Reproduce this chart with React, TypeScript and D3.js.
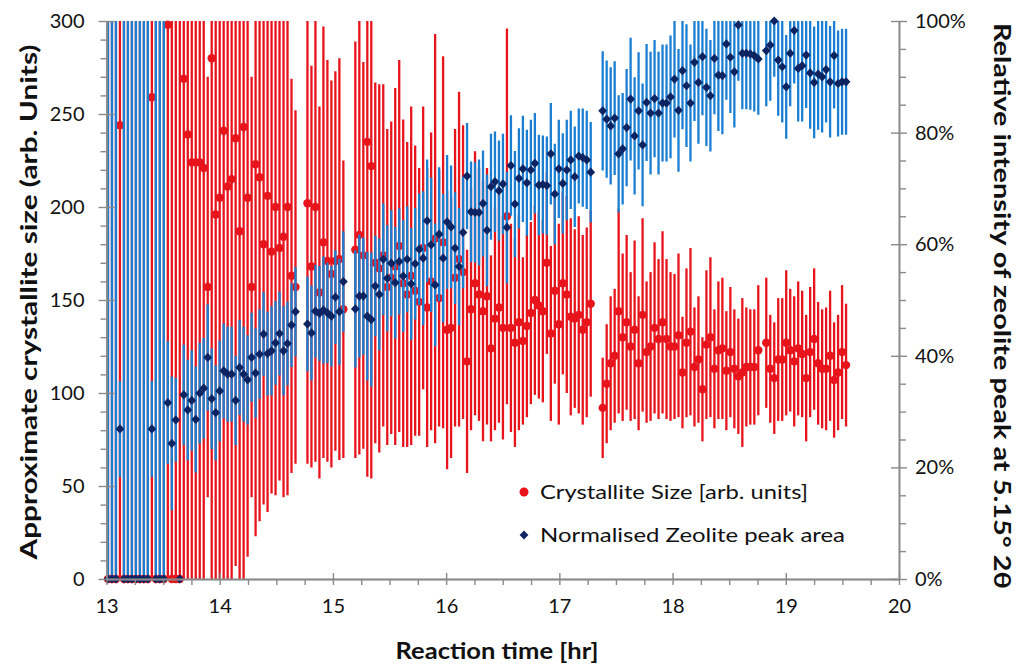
import React, { useRef, useEffect } from "react";
import * as d3 from "d3";

// scans are evenly spaced in time, gaps are null
const TIME_START = 13.013;
const TIME_STEP = 0.03524;

// crystallite size [arb. units], left axis
const crystalliteSize: (number | null)[] = [
  0, 0, 0, 244, 0, 0, 0, 0, 0, 0,
  0, 259, 0, 0, 0, 298, 0, 0, 0, 269,
  239, 224, 224, 224, 221, 157, 280, 196, 205, 241,
  211, 215, 237, 187, 243, 205, 157, 223, 216, 180,
  206, 176, 200, 178, 184, 200, 163, 157, null, null,
  202, 168, 200, 154, 181, 171, 164, 171, 172, 145,
  null, null, 177, 185, 174, 235, 222, 170, 167, 174,
  157, 162, 168, 179, 159, 153, 163, 155, 149, 178,
  146, 160, 183, 151, 181, 134, 135, 162, 172, 165,
  117, 145, 159, 153, 144, 152, 124, 140, 146, 135,
  195, 135, 127, 138, 128, 136, 143, 150, 147, 144,
  170, 132, 155, 137, 159, 153, 141, 140, 142, 134,
  138, 148, null, null, 92, 105, 116, 120, 144, 130,
  138, 125, 134, 116, 142, 122, 125, 135, 129, 138,
  129, 125, 125, 131, 111, 127, 133, 114, 118, 102,
  126, 130, 113, 123, 124, 112, 122, 113, 109, 111,
  114, 114, 114, 123, null, 127, 113, 108, 118, 118,
  127, 123, 117, 124, 121, 108, 122, 129, 116, 113,
  113, 120, 107, 111, 122, 115,
];

const crystalliteErr: number[] = [
  400, 400, 400, 300, 400, 400, 400, 400, 400, 400,
  400, 300, 400, 400, 400, 300, 400, 400, 400, 280,
  250, 240, 240, 235, 230, 113, 290, 220, 215, 250,
  220, 215, 230, 190, 243, 193, 113, 200, 185, 140,
  170, 130, 155, 125, 140, 155, 106, 95, 0, 0,
  140, 108, 137, 100, 116, 108, 104, 102, 108, 80,
  0, 0, 112, 118, 104, 180, 168, 97, 99, 92,
  85, 84, 96, 100, 88, 82, 91, 78, 72, 76,
  75, 80, 110, 69, 100, 75, 70, 80, 90, 79,
  60, 65, 71, 68, 70, 69, 50, 60, 62, 60,
  101, 56, 56, 58, 45, 49, 49, 51, 50, 49,
  49, 47, 50, 54, 49, 53, 53, 48, 53, 51,
  51, 50, 0, 0, 27, 32, 36, 36, 55, 45,
  47, 40, 48, 36, 52, 38, 40, 46, 43, 49,
  43, 40, 39, 44, 30, 40, 45, 32, 34, 28,
  40, 43, 32, 37, 38, 32, 35, 32, 31, 40,
  32, 31, 31, 35, 0, 35, 29, 30, 33, 33,
  39, 33, 35, 36, 34, 34, 35, 38, 33, 32,
  33, 35, 31, 31, 36, 33,
];

// normalised zeolite peak area [%], right axis
const zeolitePeak: (number | null)[] = [
  0, 0, 0, 26.9, 0, 0, 0, 0, 0, 0,
  0, 26.9, 0, 0, 0, 31.6, 24.3, 28.5, 0, 33,
  30.3, 32, 28.6, 33.3, 34.2, 39.7, 32.3, 29.8, 33.7, 37.3,
  36.7, 36.7, 32, 37.9, 36.7, 35.7, 39.7, 36.9, 40.3, 43.9,
  40.4, 40.9, 42.3, 44, 40.9, 42.2, 45.5, 47.9, null, null,
  45.7, 44.1, 48, 47.6, 48.2, 47.7, 47.1, 50.5, 47.9, 53.3,
  null, null, 48.4, 50.7, 50.7, 47.1, 46.5, 52.5, 51, 57.3,
  53.9, 56.6, 53.1, 56.9, 54.3, 57.3, 52.9, 56.5, 59.1, 57.5,
  64.2, 59.9, 52.7, 61.8, 57.5, 64, 63.1, 59.3, 56, 62.1,
  72.2, 65.8, 65.7, 65.7, 67.3, 62.5, 70.3, 71.2, 69.6, 70.8,
  63, 74.1, 67.2, 71.8, 73.5, 71, 73.3, 74.5, 70.6, 70.7,
  70.5, 76.2, 69, 73.5, 70.9, 73.3, 75.1, 72.1, 75.8, 75.5,
  75.1, 72.9, null, null, 83.9, 82.4, 81.2, 82.6, 76.2, 77.1,
  80.9, 86, 79.4, 83.9, 77.8, 85.4, 83.5, 86.1, 83.5, 85.3,
  85.3, 86.4, 89.6, 84, 91.1, 88.4, 85.3, 92.6, 89, 93.6,
  88.1, 86.6, 93.3, 90.3, 90.2, 95.9, 93.5, 90.9, 99.3, 94.2,
  94.2, 94.1, 93.8, 93.2, null, 94.7, 95.7, 100, 93, 91.8,
  88.2, 94.2, 98.3, 91.5, 92, 93.9, 90.7, 89, 90.5, 90,
  91.3, 89.1, 93.8, 88.8, 89.1, 89.1,
];

const zeoliteErr: number[] = [
  200, 200, 200, 8.6, 200, 200, 200, 200, 200, 200,
  200, 8.6, 200, 200, 200, 11, 12, 7.5, 0, 9,
  9, 9, 9.5, 9, 9, 9.5, 9, 8.5, 9, 8.5,
  8.5, 8.5, 8, 8.5, 8.5, 8, 8, 8, 8, 7.5,
  7.5, 8, 7.5, 7.5, 8, 7.5, 7.5, 8, 0, 0,
  8.5, 8.5, 8.3, 8.5, 9.6, 9, 9, 8.4, 9.5, 9,
  0, 0, 10.5, 11, 10.5, 11.5, 12, 9, 10, 10,
  9.5, 9.5, 10, 9.5, 10, 9.5, 10, 10, 10, 12,
  11, 12, 11, 12, 11.5, 12, 11, 10, 10.5, 10,
  9.5, 9, 9, 9.5, 9.5, 10, 9.5, 9, 9, 9,
  10, 9, 9.5, 9, 9.5, 9.5, 9, 9, 9, 8.8,
  8.8, 9.1, 9, 8.8, 9, 9, 8.8, 9, 8.5, 8.8,
  8.8, 9, 0, 0, 10.7, 10.5, 10.5, 10.2, 10.5, 10,
  10.5, 11, 10.5, 10.5, 11, 10.5, 11, 10.5, 11, 10.5,
  10.5, 11, 10.5, 11, 10.5, 11, 10.5, 10.5, 11, 10.5,
  10.5, 10, 10, 10, 10.5, 10, 10, 10, 10, 10,
  10, 10, 10, 10, 0, 10, 10, 10, 10, 10,
  9.3, 9.5, 9.5, 9.5, 10, 9.5, 10, 10, 10, 10,
  9.5, 10, 9.5, 9.5, 9.5, 9.5,
];

const xTicks = [13, 14, 15, 16, 17, 18, 19, 20];
const leftTicks = [0, 50, 100, 150, 200, 250, 300];
const rightTicks = [0, 20, 40, 60, 80, 100];

const RED = "#e8141c";
const BLUE_BAR = "#1a7fd2";
const NAVY = "#0d2463";
const AXIS = "#8a8a8a";
const FONT = "Lato, 'Open Sans', 'DejaVu Sans', sans-serif";

const App: React.FC = () => {
  const svgRef = useRef<SVGSVGElement>(null);

  useEffect(() => {
    const width = 1024;
    const height = 670;
    const plot = { left: 106.5, right: 899, top: 21, bottom: 579 };

    const svg = d3.select(svgRef.current);
    svg.selectAll("*").remove();
    svg.attr("width", width).attr("height", height);

    const x = d3.scaleLinear().domain([13, 20]).range([plot.left, plot.right]);
    const yL = d3.scaleLinear().domain([0, 300]).range([plot.bottom, plot.top]);
    const yR = d3.scaleLinear().domain([0, 100]).range([plot.bottom, plot.top]);

    const red = crystalliteSize
      .map((v, i) => ({ t: TIME_START + i * TIME_STEP, v, e: crystalliteErr[i] }))
      .filter(d => d.v !== null) as { t: number; v: number; e: number }[];
    const blue = zeolitePeak
      .map((v, i) => ({ t: TIME_START + i * TIME_STEP, v, e: zeoliteErr[i] }))
      .filter(d => d.v !== null) as { t: number; v: number; e: number }[];

    svg.append("defs")
      .append("clipPath")
      .attr("id", "plot-clip")
      .append("rect")
      .attr("x", plot.left)
      .attr("y", plot.top)
      .attr("width", plot.right - plot.left)
      .attr("height", plot.bottom - plot.top);

    // error bars + markers: red series first, blue on top
    const bars = svg.append("g").attr("clip-path", "url(#plot-clip)");
    bars.selectAll(".red-bar")
      .data(red.filter(d => d.e > 0))
      .enter()
      .append("line")
      .attr("x1", d => x(d.t))
      .attr("x2", d => x(d.t))
      .attr("y1", d => yL(d.v - d.e))
      .attr("y2", d => yL(d.v + d.e))
      .attr("stroke", RED)
      .attr("stroke-width", 2.3);

    svg.append("g")
      .selectAll("circle")
      .data(red)
      .enter()
      .append("circle")
      .attr("cx", d => x(d.t))
      .attr("cy", d => yL(d.v))
      .attr("r", 4.2)
      .attr("fill", RED);

    const bars2 = svg.append("g").attr("clip-path", "url(#plot-clip)");
    bars2.selectAll(".blue-bar")
      .data(blue.filter(d => d.e > 0))
      .enter()
      .append("line")
      .attr("x1", d => x(d.t))
      .attr("x2", d => x(d.t))
      .attr("y1", d => yR(d.v - d.e))
      .attr("y2", d => yR(d.v + d.e))
      .attr("stroke", BLUE_BAR)
      .attr("stroke-width", 2.3);

    const diamond = "M0,-4.6L4.4,0L0,4.6L-4.4,0Z";
    svg.append("g")
      .selectAll("path")
      .data(blue)
      .enter()
      .append("path")
      .attr("d", diamond)
      .attr("transform", d => `translate(${x(d.t)},${yR(d.v)})`)
      .attr("fill", NAVY);

    // axes
    const styleAxis = (g: d3.Selection<SVGGElement, unknown, null, undefined>) => {
      g.selectAll("path").attr("stroke", AXIS).attr("stroke-width", 1.4);
      g.selectAll("line").attr("stroke", AXIS).attr("stroke-width", 1.4);
      g.selectAll("text")
        .attr("font-family", FONT)
        .attr("font-size", 20)
        .attr("fill", "#111");
    };

    const leftMinor = d3.range(0, 301, 10).filter(v => v % 50 !== 0);
    const rightMinor = d3.range(0, 101, 5).filter(v => v % 20 !== 0);
    const xMinor = d3.range(13, 20.01, 0.25).filter(v => Math.abs(v - Math.round(v)) > 0.01);

    // left
    svg.append("g")
      .attr("transform", `translate(${plot.left},0)`)
      .call(d3.axisLeft(yL).tickValues(leftMinor).tickSize(6).tickSizeOuter(0).tickFormat(() => ""))
      .call(styleAxis);
    svg.append("g")
      .attr("transform", `translate(${plot.left},0)`)
      .call(d3.axisRight(yL).tickValues(leftTicks).tickSize(8).tickSizeOuter(0).tickFormat(() => ""))
      .call(styleAxis);
    svg.append("g")
      .attr("transform", `translate(${plot.left},0)`)
      .call(d3.axisLeft(yL).tickValues(leftTicks).tickSize(8).tickSizeOuter(0).tickPadding(14))
      .call(styleAxis);

    // right
    svg.append("g")
      .attr("transform", `translate(${plot.right},0)`)
      .call(d3.axisRight(yR).tickValues(rightMinor).tickSize(7).tickSizeOuter(0).tickFormat(() => ""))
      .call(styleAxis);
    svg.append("g")
      .attr("transform", `translate(${plot.right},0)`)
      .call(d3.axisLeft(yR).tickValues(rightTicks).tickSize(8).tickSizeOuter(0).tickFormat(() => ""))
      .call(styleAxis);
    svg.append("g")
      .attr("transform", `translate(${plot.right},0)`)
      .call(d3.axisRight(yR).tickValues(rightTicks).tickSize(8).tickSizeOuter(0).tickPadding(8).tickFormat(d => `${d}%`))
      .call(styleAxis);

    // bottom
    svg.append("g")
      .attr("transform", `translate(0,${plot.bottom})`)
      .call(d3.axisBottom(x).tickValues(xMinor).tickSize(6).tickSizeOuter(0).tickFormat(() => ""))
      .call(styleAxis);
    svg.append("g")
      .attr("transform", `translate(0,${plot.bottom})`)
      .call(d3.axisTop(x).tickValues(xTicks).tickSize(6).tickSizeOuter(0).tickFormat(() => ""))
      .call(styleAxis);
    svg.append("g")
      .attr("transform", `translate(0,${plot.bottom})`)
      .call(d3.axisBottom(x).tickValues(xTicks).tickSize(6).tickSizeOuter(0).tickPadding(14).tickFormat(d3.format("d")))
      .call(styleAxis);

    // titles
    svg.append("text")
      .attr("transform", "translate(37,302) rotate(-90)")
      .attr("text-anchor", "middle")
      .attr("font-family", FONT)
      .attr("font-weight", "bold")
      .attr("font-size", 22)
      .attr("textLength", 515)
      .attr("lengthAdjust", "spacingAndGlyphs")
      .attr("fill", "#111")
      .text("Approximate crystallite size (arb. Units)");

    svg.append("text")
      .attr("x", 497)
      .attr("y", 659)
      .attr("text-anchor", "middle")
      .attr("font-family", FONT)
      .attr("font-weight", "bold")
      .attr("font-size", 22)
      .attr("textLength", 203)
      .attr("lengthAdjust", "spacingAndGlyphs")
      .attr("fill", "#111")
      .text("Reaction time [hr]");

    svg.append("text")
      .attr("transform", "translate(994,306) rotate(90)")
      .attr("text-anchor", "middle")
      .attr("font-family", FONT)
      .attr("font-weight", "bold")
      .attr("font-size", 22)
      .attr("textLength", 566)
      .attr("lengthAdjust", "spacingAndGlyphs")
      .attr("fill", "#111")
      .text("Relative intensity of zeolite peak at 5.15° 2θ");

    // legend
    const legend = svg.append("g").attr("font-family", FONT).attr("font-size", 20).attr("fill", "#111");
    legend.append("circle").attr("cx", 524).attr("cy", 492).attr("r", 4.5).attr("fill", RED);
    legend.append("text").attr("x", 540).attr("y", 499).attr("textLength", 268)
      .attr("lengthAdjust", "spacingAndGlyphs").text("Crystallite Size [arb. units]");
    legend.append("path").attr("d", diamond).attr("transform", "translate(524,535)").attr("fill", NAVY);
    legend.append("text").attr("x", 540).attr("y", 542).attr("textLength", 305)
      .attr("lengthAdjust", "spacingAndGlyphs").text("Normalised Zeolite peak area");
  }, []);

  return (
    <div style={{ position: "absolute", left: 0, top: 0, width: 1024, height: 670, background: "#fff" }}>
      <svg ref={svgRef} />
    </div>
  );
};

export default App;
